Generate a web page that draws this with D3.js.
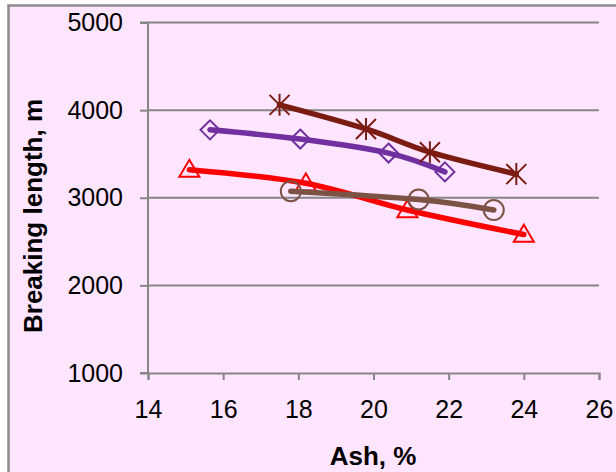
<!DOCTYPE html>
<html><head><meta charset="utf-8">
<script src="https://cdn.jsdelivr.net/npm/d3@7"></script>
<style>
html,body{margin:0;padding:0;background:#fff;}
svg{display:block;}
</style></head>
<body><svg id="c" width="616" height="472"></svg>
<script>
// ---- data ----
const xTicks = [14, 16, 18, 20, 22, 24, 26];
const yTicks = [1000, 2000, 3000, 4000, 5000];
const starX = [17.5, 19.8, 21.5, 23.8];
const starY = [4060, 3785, 3520, 3270];
const diamondX = [15.65, 18.05, 20.4, 21.9];
const diamondY = [3775, 3670, 3510, 3295];
const triangleX = [15.1, 18.2, 20.9, 24.0];
const triangleY = [3320, 3165, 2860, 2580];
const circleX = [17.8, 21.2, 23.2];
const circleY = [3075, 2980, 2860];
const xLabel = "Ash, %";
const yLabel = "Breaking length, m";

const svg = d3.select("#c");
const W = 616, H = 472;
const m = {l:148, r:599, t:22.5, b:373};

// background + border
svg.append("rect").attr("x", 8.5).attr("y", 5.5).attr("width", W).attr("height", H)
  .attr("fill", "#ffe5ff").attr("stroke", "#8c8c8c").attr("stroke-width", 2.5);

const x = d3.scaleLinear().domain([14, 26]).range([m.l, m.r]);
const y = d3.scaleLinear().domain([1000, 5000]).range([m.b, m.t]);

const gridColor = "#868686";
// gridlines
svg.append("g").selectAll("line").data(yTicks.filter(v => v > 1000)).join("line")
  .attr("x1", m.l).attr("x2", m.r).attr("y1", d => y(d)).attr("y2", d => y(d))
  .attr("stroke", gridColor).attr("stroke-width", 2);

// y axis
const yAxis = svg.append("g").attr("transform", `translate(${m.l},0)`)
  .call(d3.axisLeft(y).tickValues(yTicks).tickSize(8).tickPadding(17).tickFormat(d3.format("d")));
// x axis
const xAxis = svg.append("g").attr("transform", `translate(0,${m.b})`)
  .call(d3.axisBottom(x).tickValues(xTicks).tickSize(7).tickPadding(20).tickFormat(d3.format("d")));
[yAxis, xAxis].forEach(a => {
  a.select(".domain").attr("stroke", gridColor).attr("stroke-width", 2);
  a.selectAll(".tick line").attr("stroke", gridColor).attr("stroke-width", 2);
  a.selectAll("text").attr("fill", "#000").attr("font-family", "Liberation Sans, Arial, sans-serif").attr("font-size", 25);
});
yAxis.selectAll(".domain").attr("d", `M-8,${m.t}H0V${m.b}H-8`);

// axis titles
svg.append("text").attr("x", 373).attr("y", 465).attr("text-anchor", "middle")
  .attr("font-family", "Liberation Sans, Arial, sans-serif").attr("font-weight", "bold").attr("font-size", 26)
  .text(xLabel);
svg.append("text").attr("transform", "translate(42,216) rotate(-90)").attr("text-anchor", "middle")
  .attr("font-family", "Liberation Sans, Arial, sans-serif").attr("font-weight", "bold").attr("font-size", 26)
  .text(yLabel);

const line = d3.line().x(d => x(d[0])).y(d => y(d[1])).curve(d3.curveCatmullRom.alpha(0));

function series(xs, ys, color, marker) {
  const pts = xs.map((v, i) => [v, ys[i]]);
  svg.append("path").datum(pts).attr("d", line).attr("fill", "none")
    .attr("stroke", color).attr("stroke-width", 5.5).attr("stroke-linecap", "round").attr("stroke-linejoin", "round");
  const g = svg.append("g");
  pts.forEach(p => {
    const cx = x(p[0]), cy = y(p[1]);
    let d;
    if (marker === "diamond") {
      const r = 9.5;
      d = `M${cx},${cy-r}L${cx+r},${cy}L${cx},${cy+r}L${cx-r},${cy}Z`;
    } else if (marker === "triangle") {
      const w = 10, h = 17;
      d = `M${cx},${cy-h*0.58}L${cx+w},${cy+h*0.42}L${cx-w},${cy+h*0.42}Z`;
    } else if (marker === "circle") {
      const r = 10;
      d = `M${cx+r},${cy}A${r},${r} 0 1,1 ${cx-r},${cy}A${r},${r} 0 1,1 ${cx+r},${cy}Z`;
    } else if (marker === "star") {
      const r = 10;
      d = `M${cx-r},${cy-r}L${cx+r},${cy+r}M${cx-r},${cy+r}L${cx+r},${cy-r}M${cx},${cy-r*1.1}L${cx},${cy+r*1.1}`;
    }
    g.append("path").attr("d", d).attr("fill", "none").attr("stroke", color).attr("stroke-width", 2);
  });
}

series(triangleX, triangleY, "#ff0000", "triangle");
series(circleX, circleY, "#7b5244", "circle");
series(diamondX, diamondY, "#7030a0", "diamond");
series(starX, starY, "#7b1c12", "star");
</script>
</body></html>
